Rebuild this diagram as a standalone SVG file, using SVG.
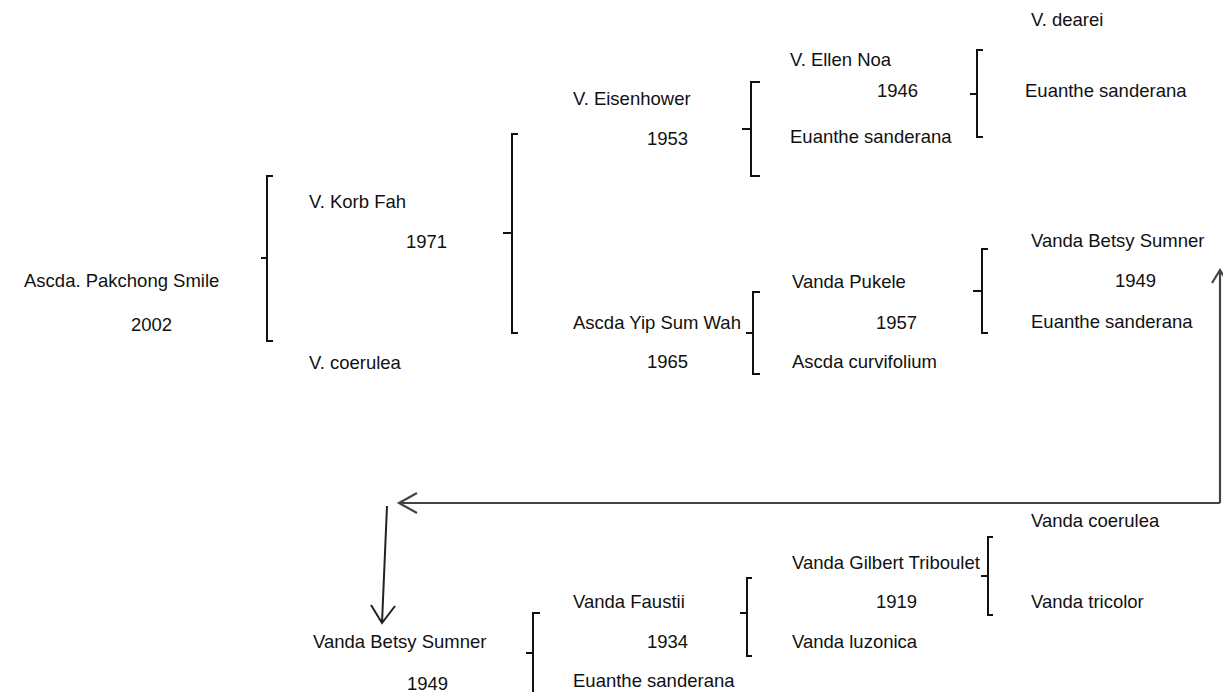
<svg xmlns="http://www.w3.org/2000/svg" width="1223" height="692" viewBox="0 0 1223 692">
<defs>
<style>
text{font-family:"Liberation Sans",Arial,sans-serif;font-size:18.5px;fill:#111}
.br{fill:none;stroke:#111;stroke-width:2}
.ar{fill:none;stroke:#222;stroke-width:2}
.ln{fill:none;stroke:#444;stroke-width:2.2}
</style>
</defs>
<rect width="1223" height="692" fill="#fff"/>
<g id="connectors">
<path class="br" d="M273,176 H267 V341 H273 M261,258 H267"/>
<path class="br" d="M518,134 H512 V333 H518 M503,233 H512"/>
<path class="br" d="M760,82 H751 V176 H760 M742,129 H751"/>
<path class="br" d="M983,50 H977 V137 H983 M970,94 H977"/>
<path class="br" d="M760,292 H753 V374 H760 M746,333 H753"/>
<path class="br" d="M988,249 H982 V333 H988 M973,291 H982"/>
<path class="br" d="M540,613 H533 V692 M526,653 H533"/>
<path class="br" d="M752,578 H747 V656 H752 M740,613 H747"/>
<path class="br" d="M993,537 H988 V615 H993 M981,576 H988"/>
<path class="ln" d="M1220,503 V270 M1212,283 L1220,270 L1228,283"/>
<path class="ln" d="M1220,503 H399 M417,493 L399,503 L417,513"/>
<path class="ar" d="M387,506 L382,623 M371,605 L382,623 L395,606"/>
</g>
<g id="n-pakchong"><text x="24" y="287">Ascda. Pakchong Smile</text><text x="131" y="331">2002</text></g>
<g id="n-korbfah"><text x="309" y="208">V. Korb Fah</text><text x="406" y="248">1971</text></g>
<g id="n-coerulea"><text x="309" y="369">V. coerulea</text></g>
<g id="n-eisenhower"><text x="573" y="105">V. Eisenhower</text><text x="647" y="145">1953</text></g>
<g id="n-yipsumwah"><text x="573" y="329">Ascda Yip Sum Wah</text><text x="647" y="368">1965</text></g>
<g id="n-ellennoa"><text x="790" y="66">V. Ellen Noa</text><text x="877" y="97">1946</text></g>
<g id="n-sanderana1"><text x="790" y="143">Euanthe sanderana</text></g>
<g id="n-dearei"><text x="1031" y="26">V. dearei</text></g>
<g id="n-sanderana2"><text x="1025" y="97">Euanthe sanderana</text></g>
<g id="n-pukele"><text x="792" y="288">Vanda Pukele</text><text x="876" y="329">1957</text></g>
<g id="n-curvifolium"><text x="792" y="368">Ascda curvifolium</text></g>
<g id="n-betsy1"><text x="1031" y="247">Vanda Betsy Sumner</text><text x="1115" y="287">1949</text></g>
<g id="n-sanderana3"><text x="1031" y="328">Euanthe sanderana</text></g>
<g id="n-betsy2"><text x="313" y="648">Vanda Betsy Sumner</text><text x="407" y="690">1949</text></g>
<g id="n-faustii"><text x="573" y="608">Vanda Faustii</text><text x="647" y="648">1934</text></g>
<g id="n-sanderana4"><text x="573" y="687">Euanthe sanderana</text></g>
<g id="n-gilbert"><text x="792" y="569">Vanda Gilbert Triboulet</text><text x="876" y="608">1919</text></g>
<g id="n-luzonica"><text x="792" y="648">Vanda luzonica</text></g>
<g id="n-vcoerulea"><text x="1031" y="527">Vanda coerulea</text></g>
<g id="n-tricolor"><text x="1031" y="608">Vanda tricolor</text></g>
</svg>
